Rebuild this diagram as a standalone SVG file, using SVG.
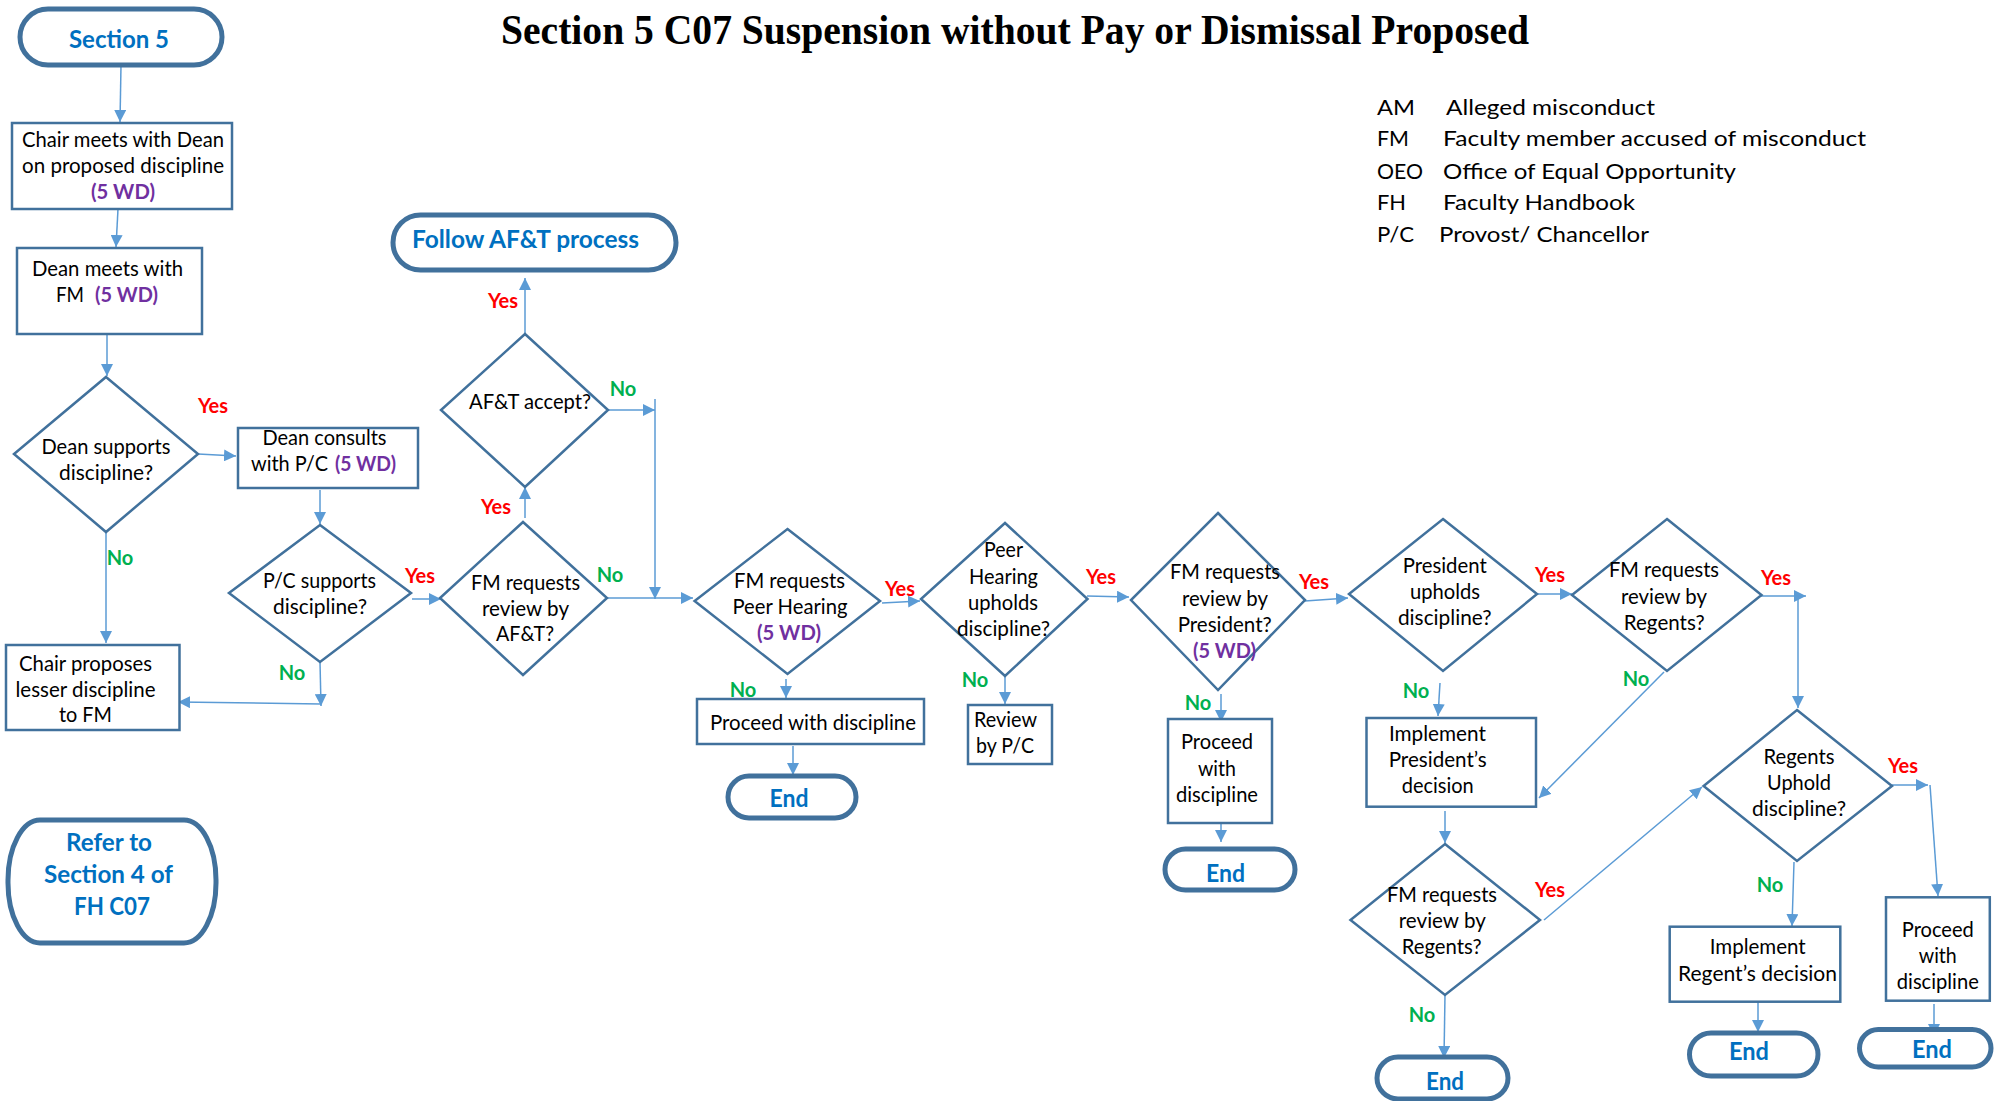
<svg xmlns="http://www.w3.org/2000/svg" width="2002" height="1101" viewBox="0 0 2002 1101">
<defs>
<marker id="ah" markerUnits="userSpaceOnUse" markerWidth="12" markerHeight="12" refX="12" refY="6" orient="auto"><path d="M0,0 L12,6 L0,12 z" fill="#5B9BD5"/></marker>
<style>
.box{fill:#fff;stroke:#41719C;stroke-width:2.5}
.dia{fill:#fff;stroke:#41719C;stroke-width:2.5}
.term{fill:#fff;stroke:#41719C;stroke-width:5}
.c{stroke:#5B9BD5;stroke-width:1.5;fill:none;marker-end:url(#ah)}
text{font-family:Lato,"Open Sans",sans-serif;font-size:21px;fill:#000;text-anchor:middle}
.s{text-anchor:start}
.p{font-weight:bold;fill:#7030A0}
.b{font-weight:bold;fill:#0070C0;font-size:25px}
.y{font-weight:bold;fill:#FF0000;font-size:20px}
.n{font-weight:bold;fill:#00B050;font-size:20px}
.lg{font-size:21.5px;text-anchor:start}
.title{font-family:"Liberation Serif","Times New Roman",serif;font-weight:bold;font-size:42px;text-anchor:start}
</style>
</defs>
<rect width="2002" height="1101" fill="#fff"/>
<text class="title" x="501" y="44" textLength="1028" lengthAdjust="spacingAndGlyphs">Section 5 C07 Suspension without Pay or Dismissal Proposed</text>
<g id="legend">
<text class="lg" x="1377" y="115" textLength="38" lengthAdjust="spacingAndGlyphs">AM</text>
<text class="lg" x="1446" y="115" textLength="209" lengthAdjust="spacingAndGlyphs">Alleged misconduct</text>
<text class="lg" x="1377" y="146" textLength="32" lengthAdjust="spacingAndGlyphs">FM</text>
<text class="lg" x="1443" y="146" textLength="423" lengthAdjust="spacingAndGlyphs">Faculty member accused of misconduct</text>
<text class="lg" x="1377" y="179" textLength="46" lengthAdjust="spacingAndGlyphs">OEO</text>
<text class="lg" x="1443" y="179" textLength="293" lengthAdjust="spacingAndGlyphs">Office of Equal Opportunity</text>
<text class="lg" x="1377" y="210" textLength="29" lengthAdjust="spacingAndGlyphs">FH</text>
<text class="lg" x="1443" y="210" textLength="192" lengthAdjust="spacingAndGlyphs">Faculty Handbook</text>
<text class="lg" x="1377" y="242" textLength="37" lengthAdjust="spacingAndGlyphs">P/C</text>
<text class="lg" x="1439" y="242" textLength="210" lengthAdjust="spacingAndGlyphs">Provost/ Chancellor</text>
</g>
<g id="connectors">
<line class="c" x1="121" y1="65" x2="120" y2="122"/>
<line class="c" x1="118" y1="209" x2="116" y2="247"/>
<line class="c" x1="107" y1="335" x2="107" y2="376"/>
<line class="c" x1="198" y1="454" x2="236" y2="456"/>
<line class="c" x1="106" y1="532" x2="106" y2="643"/>
<line class="c" x1="320" y1="490" x2="320" y2="524"/>
<line class="c" x1="412" y1="599" x2="441" y2="599"/>
<line class="c" x1="320" y1="662" x2="321" y2="706"/>
<line class="c" x1="321" y1="704" x2="178" y2="702"/>
<line class="c" x1="525" y1="518" x2="525" y2="487"/>
<line class="c" x1="525" y1="334" x2="525" y2="278"/>
<line class="c" x1="608" y1="410" x2="655" y2="410"/>
<line class="c" x1="655" y1="399" x2="655" y2="599"/>
<line class="c" x1="607" y1="598" x2="693" y2="598"/>
<line class="c" x1="882" y1="603" x2="920" y2="601"/>
<line class="c" x1="786" y1="679" x2="786" y2="698"/>
<line class="c" x1="793" y1="746" x2="793" y2="775"/>
<line class="c" x1="1005" y1="676" x2="1005" y2="704"/>
<line class="c" x1="1087" y1="596" x2="1129" y2="597"/>
<line class="c" x1="1221" y1="694" x2="1221" y2="722"/>
<line class="c" x1="1221" y1="812" x2="1221" y2="842"/>
<line class="c" x1="1305" y1="601" x2="1348" y2="598"/>
<line class="c" x1="1440" y1="683" x2="1438" y2="716"/>
<line class="c" x1="1538" y1="594" x2="1572" y2="594"/>
<line class="c" x1="1664" y1="672" x2="1539" y2="798"/>
<line class="c" x1="1761" y1="596" x2="1806" y2="596"/>
<line class="c" x1="1798" y1="596" x2="1798" y2="708"/>
<line class="c" x1="1445" y1="811" x2="1445" y2="843"/>
<line class="c" x1="1544" y1="920" x2="1702" y2="787"/>
<line class="c" x1="1445" y1="995" x2="1444" y2="1058"/>
<line class="c" x1="1892" y1="785" x2="1928" y2="785"/>
<line class="c" x1="1930" y1="785" x2="1938" y2="896"/>
<line class="c" x1="1794" y1="862" x2="1792" y2="926"/>
<line class="c" x1="1758" y1="997" x2="1758" y2="1032"/>
<line class="c" x1="1934" y1="1004" x2="1934" y2="1036"/>
<text class="y" x="213" y="413">Yes</text>
<text class="n" x="120" y="565">No</text>
<text class="y" x="420" y="583">Yes</text>
<text class="n" x="292" y="680">No</text>
<text class="y" x="496" y="514">Yes</text>
<text class="n" x="610" y="582">No</text>
<text class="y" x="503" y="308">Yes</text>
<text class="n" x="623" y="396">No</text>
<text class="y" x="900" y="596">Yes</text>
<text class="n" x="743" y="697">No</text>
<text class="y" x="1101" y="584">Yes</text>
<text class="n" x="975" y="687">No</text>
<text class="y" x="1314" y="589">Yes</text>
<text class="n" x="1198" y="710">No</text>
<text class="y" x="1550" y="582">Yes</text>
<text class="n" x="1416" y="698">No</text>
<text class="y" x="1776" y="585">Yes</text>
<text class="n" x="1636" y="686">No</text>
<text class="y" x="1903" y="773">Yes</text>
<text class="n" x="1770" y="892">No</text>
<text class="y" x="1550" y="897">Yes</text>
<text class="n" x="1422" y="1022">No</text>
</g>
<g id="section5">
<rect class="term" x="20" y="9" width="202" height="56" rx="28"/>
<text class="b" x="119" y="48" font-size="26" textLength="100" lengthAdjust="spacingAndGlyphs">Section 5</text>
</g>
<g id="chair-meets-dean">
<rect class="box" x="12" y="123" width="220" height="86"/>
<text x="123" y="147" textLength="202" lengthAdjust="spacingAndGlyphs">Chair meets with Dean</text>
<text x="123" y="173" textLength="202" lengthAdjust="spacingAndGlyphs">on proposed discipline</text>
<text class="p" x="123" y="199" textLength="64" lengthAdjust="spacingAndGlyphs">(5 WD)</text>
</g>
<g id="dean-meets-fm">
<rect class="box" x="17" y="248" width="185" height="86"/>
<text x="107.5" y="276" textLength="151" lengthAdjust="spacingAndGlyphs">Dean meets with</text>
<text class="s" x="56" y="302" textLength="28" lengthAdjust="spacingAndGlyphs">FM</text>
<text class="p s" x="95" y="302" textLength="63" lengthAdjust="spacingAndGlyphs">(5 WD)</text>
</g>
<g id="dean-supports">
<polygon class="dia" points="106,377 198,454 106,532 14,454"/>
<text x="106" y="454" textLength="129" lengthAdjust="spacingAndGlyphs">Dean supports</text>
<text x="106" y="480" textLength="94" lengthAdjust="spacingAndGlyphs">discipline?</text>
</g>
<g id="dean-consults">
<rect class="box" x="238" y="428" width="180" height="60"/>
<text x="324.5" y="445" textLength="124" lengthAdjust="spacingAndGlyphs">Dean consults</text>
<text class="s" x="251" y="471" textLength="77" lengthAdjust="spacingAndGlyphs">with P/C</text>
<text class="p s" x="335" y="471" textLength="61" lengthAdjust="spacingAndGlyphs">(5 WD)</text>
</g>
<g id="pc-supports">
<polygon class="dia" points="320,525 411,593 320,662 229,593"/>
<text x="319.5" y="588" textLength="113" lengthAdjust="spacingAndGlyphs">P/C supports</text>
<text x="320" y="614" textLength="94" lengthAdjust="spacingAndGlyphs">discipline?</text>
</g>
<g id="chair-proposes">
<rect class="box" x="6" y="645" width="173.5" height="85"/>
<text x="85.5" y="671" textLength="133" lengthAdjust="spacingAndGlyphs">Chair proposes</text>
<text x="85.5" y="697" textLength="140" lengthAdjust="spacingAndGlyphs">lesser discipline</text>
<text x="85.5" y="722" textLength="53" lengthAdjust="spacingAndGlyphs">to FM</text>
</g>
<g id="refer-section4">
<rect class="term" x="8" y="820" width="208" height="123" rx="32" ry="60"/>
<text class="b" x="109" y="851" textLength="86" lengthAdjust="spacingAndGlyphs">Refer to</text>
<text class="b" x="108.5" y="883" textLength="129" lengthAdjust="spacingAndGlyphs">Section 4 of</text>
<text class="b" x="112" y="915" textLength="76" lengthAdjust="spacingAndGlyphs">FH C07</text>
</g>
<g id="fm-requests-aft">
<polygon class="dia" points="523,522 607,598 523,675 440,598"/>
<text x="525.5" y="590" textLength="109" lengthAdjust="spacingAndGlyphs">FM requests</text>
<text x="525.5" y="616" textLength="87" lengthAdjust="spacingAndGlyphs">review by</text>
<text x="525" y="641" textLength="58" lengthAdjust="spacingAndGlyphs">AF&amp;T?</text>
</g>
<g id="aft-accept">
<polygon class="dia" points="525,334 608,410 525,487 441,410"/>
<text x="530" y="409" textLength="122" lengthAdjust="spacingAndGlyphs">AF&amp;T accept?</text>
</g>
<g id="follow-aft">
<rect class="term" x="393" y="215" width="283" height="55" rx="27.5"/>
<text class="b s" x="412" y="248" textLength="227" lengthAdjust="spacingAndGlyphs">Follow AF&amp;T process</text>
</g>
<g id="fm-requests-peer">
<polygon class="dia" points="787.5,529 880,601 787.5,674 694.6,601"/>
<text x="789.5" y="588" textLength="111" lengthAdjust="spacingAndGlyphs">FM requests</text>
<text x="790" y="614" textLength="115" lengthAdjust="spacingAndGlyphs">Peer Hearing</text>
<text class="p" x="789" y="640" textLength="64" lengthAdjust="spacingAndGlyphs">(5 WD)</text>
</g>
<g id="proceed-1">
<rect class="box" x="697" y="699" width="227" height="45"/>
<text x="813" y="730" textLength="206" lengthAdjust="spacingAndGlyphs">Proceed with discipline</text>
</g>
<g id="end-1">
<rect class="term" x="728" y="776" width="128" height="42" rx="21"/>
<text class="b" x="789" y="807" textLength="39" lengthAdjust="spacingAndGlyphs">End</text>
</g>
<g id="peer-upholds">
<polygon class="dia" points="1005,523 1087.5,599 1005,676 921,599"/>
<text x="1003.5" y="557" textLength="39" lengthAdjust="spacingAndGlyphs">Peer</text>
<text x="1003.5" y="584" textLength="69" lengthAdjust="spacingAndGlyphs">Hearing</text>
<text x="1003" y="610" textLength="70" lengthAdjust="spacingAndGlyphs">upholds</text>
<text x="1003.5" y="636" textLength="93" lengthAdjust="spacingAndGlyphs">discipline?</text>
</g>
<g id="review-pc">
<rect class="box" x="968" y="705" width="84" height="59"/>
<text class="s" x="974" y="727" textLength="63" lengthAdjust="spacingAndGlyphs">Review</text>
<text class="s" x="976" y="753" textLength="58" lengthAdjust="spacingAndGlyphs">by P/C</text>
</g>
<g id="fm-requests-president">
<polygon class="dia" points="1218,513 1305,600 1218,690 1131,600"/>
<text x="1225" y="579" textLength="110" lengthAdjust="spacingAndGlyphs">FM requests</text>
<text x="1225" y="606" textLength="86" lengthAdjust="spacingAndGlyphs">review by</text>
<text x="1224.7" y="632" textLength="94" lengthAdjust="spacingAndGlyphs">President?</text>
<text class="p" x="1224.5" y="658" textLength="63" lengthAdjust="spacingAndGlyphs">(5 WD)</text>
</g>
<g id="proceed-2">
<rect class="box" x="1168" y="719" width="104" height="104"/>
<text x="1217" y="749" textLength="72" lengthAdjust="spacingAndGlyphs">Proceed</text>
<text x="1217" y="776" textLength="38" lengthAdjust="spacingAndGlyphs">with</text>
<text x="1217" y="802" textLength="82" lengthAdjust="spacingAndGlyphs">discipline</text>
</g>
<g id="end-2">
<rect class="term" x="1165" y="849" width="130" height="41" rx="20.5"/>
<text class="b" x="1225.5" y="882" textLength="39" lengthAdjust="spacingAndGlyphs">End</text>
</g>
<g id="president-upholds">
<polygon class="dia" points="1443,519 1537,594 1443,671 1349,594"/>
<text x="1444.7" y="573" textLength="84" lengthAdjust="spacingAndGlyphs">President</text>
<text x="1445" y="599" textLength="70" lengthAdjust="spacingAndGlyphs">upholds</text>
<text x="1444.8" y="625" textLength="93.7" lengthAdjust="spacingAndGlyphs">discipline?</text>
</g>
<g id="implement-president">
<rect class="box" x="1366.5" y="718" width="169.5" height="88.7"/>
<text x="1437.4" y="741" textLength="97" lengthAdjust="spacingAndGlyphs">Implement</text>
<text x="1437.7" y="767" textLength="98" lengthAdjust="spacingAndGlyphs">President’s</text>
<text x="1437.7" y="793" textLength="72" lengthAdjust="spacingAndGlyphs">decision</text>
</g>
<g id="fm-requests-regents-1">
<polygon class="dia" points="1667,519 1761.5,595 1667,671 1572,595"/>
<text x="1664" y="577" textLength="110" lengthAdjust="spacingAndGlyphs">FM requests</text>
<text x="1664" y="604" textLength="86" lengthAdjust="spacingAndGlyphs">review by</text>
<text x="1664.3" y="630" textLength="81" lengthAdjust="spacingAndGlyphs">Regents?</text>
</g>
<g id="regents-uphold">
<polygon class="dia" points="1797,710 1892,786 1797,861 1703.6,786"/>
<text x="1799" y="764" textLength="71" lengthAdjust="spacingAndGlyphs">Regents</text>
<text x="1799" y="790" textLength="64" lengthAdjust="spacingAndGlyphs">Uphold</text>
<text x="1799" y="816" textLength="94" lengthAdjust="spacingAndGlyphs">discipline?</text>
</g>
<g id="fm-requests-regents-2">
<polygon class="dia" points="1445,844 1540,920 1445,995 1350.5,920"/>
<text x="1442" y="902" textLength="110" lengthAdjust="spacingAndGlyphs">FM requests</text>
<text x="1442.3" y="928" textLength="87" lengthAdjust="spacingAndGlyphs">review by</text>
<text x="1441.7" y="954" textLength="80" lengthAdjust="spacingAndGlyphs">Regents?</text>
</g>
<g id="end-3">
<rect class="term" x="1377" y="1057" width="131" height="42" rx="21"/>
<text class="b" x="1445" y="1090" textLength="38" lengthAdjust="spacingAndGlyphs">End</text>
</g>
<g id="implement-regents">
<rect class="box" x="1669.7" y="926.7" width="170.6" height="75"/>
<text x="1757.7" y="954" textLength="96" lengthAdjust="spacingAndGlyphs">Implement</text>
<text x="1757.5" y="981" textLength="159" lengthAdjust="spacingAndGlyphs">Regent’s  decision</text>
</g>
<g id="end-4">
<rect class="term" x="1689.5" y="1033" width="128.5" height="43" rx="21.5"/>
<text class="b" x="1749" y="1060" textLength="40" lengthAdjust="spacingAndGlyphs">End</text>
</g>
<g id="proceed-3">
<rect class="box" x="1886" y="897.3" width="103.8" height="103.4"/>
<text x="1937.8" y="937" textLength="72" lengthAdjust="spacingAndGlyphs">Proceed</text>
<text x="1937.8" y="963" textLength="38" lengthAdjust="spacingAndGlyphs">with</text>
<text x="1937.8" y="989" textLength="82" lengthAdjust="spacingAndGlyphs">discipline</text>
</g>
<g id="end-5">
<rect class="term" x="1859.5" y="1029.5" width="131.5" height="37.5" rx="18.75"/>
<text class="b" x="1932" y="1058" textLength="40" lengthAdjust="spacingAndGlyphs">End</text>
</g>
</svg>
